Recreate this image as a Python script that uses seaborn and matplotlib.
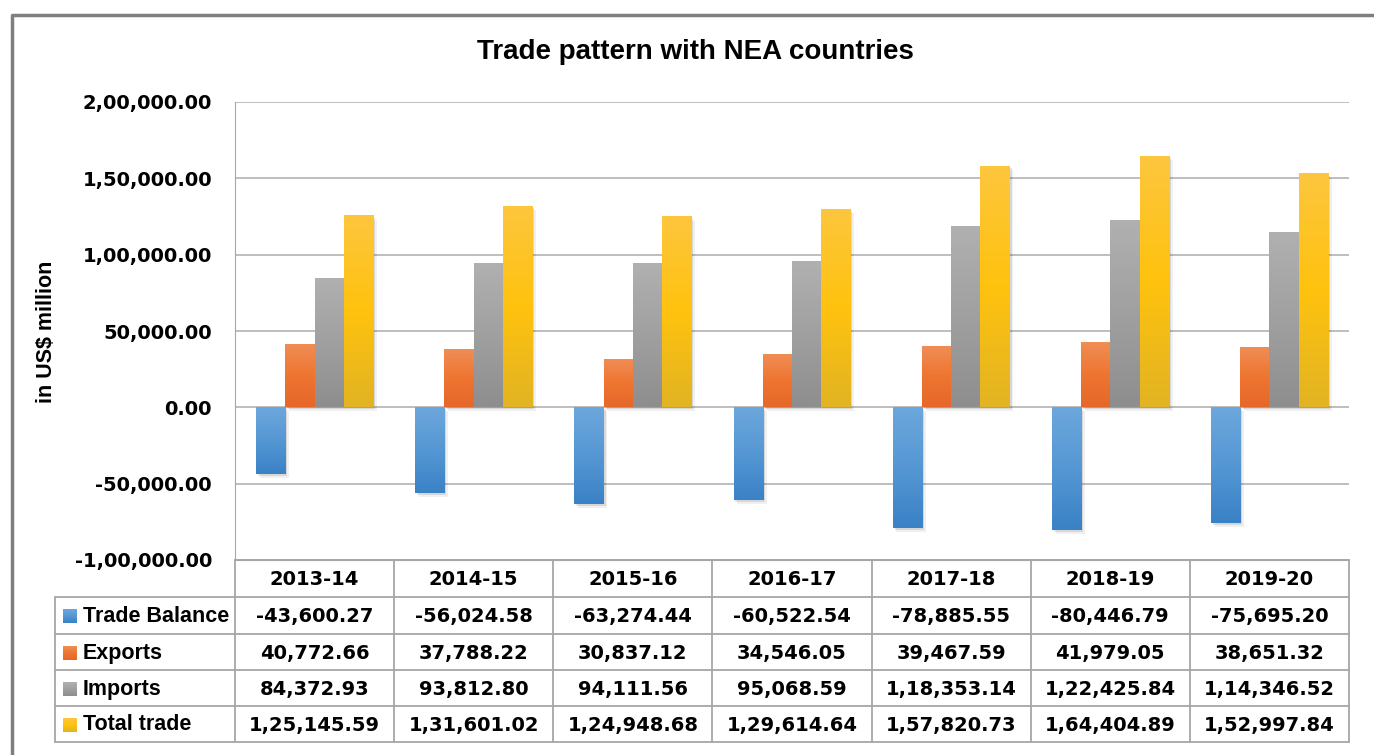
import matplotlib
matplotlib.use("Agg")
import matplotlib.pyplot as plt
import matplotlib.patches as mpatches
import numpy as np
import pandas as pd
import seaborn as sns

years = ["2013-14", "2014-15", "2015-16", "2016-17", "2017-18", "2018-19", "2019-20"]
series = ["Trade Balance", "Exports", "Imports", "Total trade"]
trade_balance = [-43600.27, -56024.58, -63274.44, -60522.54, -78885.55, -80446.79, -75695.20]
exports = [40772.66, 37788.22, 30837.12, 34546.05, 39467.59, 41979.05, 38651.32]
imports = [84372.93, 93812.80, 94111.56, 95068.59, 118353.14, 122425.84, 114346.52]
total_trade = [125145.59, 131601.02, 124948.68, 129614.64, 157820.73, 164404.89, 152997.84]
y_ticks = [-100000, -50000, 0, 50000, 100000, 150000, 200000]

values = [trade_balance, exports, imports, total_trade]
colors = ["#5b9bd5", "#ed7d31", "#a5a5a5", "#ffc000"]
# top / middle / bottom gradient stops per series
grads = [
    ["#6ca7dc", "#5597d4", "#3a82c6"],
    ["#f08d55", "#ee7530", "#e6672a"],
    ["#b0b0b0", "#a0a0a0", "#8e8e8e"],
    ["#fdc63d", "#ffc20e", "#e2b423"],
]


def indian(v):
    # Indian digit grouping: 1,25,145.59
    s = f"{abs(v):.2f}"
    ip, dp = s.split(".")
    if len(ip) > 3:
        head, tail = ip[:-3], ip[-3:]
        parts = []
        while len(head) > 2:
            parts.insert(0, head[-2:])
            head = head[:-2]
        if head:
            parts.insert(0, head)
        ip = ",".join(parts + [tail])
    return ("-" if v < 0 else "") + ip + "." + dp


rows = []
for name, vals in zip(series, values):
    for yr, v in zip(years, vals):
        rows.append({"Year": yr, "Series": name, "Value": v})
df = pd.DataFrame(rows)

sns.set_style("white")
plt.rcParams["font.family"] = ["Liberation Sans", "DejaVu Sans"]
plt.rcParams["font.weight"] = "bold"
plt.rcParams["text.color"] = "black"
plt.rcParams["ytick.color"] = "black"
num_font = dict(family="DejaVu Sans", fontweight="bold", fontsize=14, color="black")

W, H = 1374, 755
fig = plt.figure(figsize=(W / 100, H / 100), dpi=100)


def fx(px):
    return px / W


def fy(py):
    return 1 - py / H


left, right, top, bottom = 235, 1349, 102, 560
ax = fig.add_axes([fx(left), fy(bottom), fx(right - left), fy(top) - fy(bottom)])

sns.barplot(data=df, x="Year", y="Value", hue="Series", hue_order=series,
            palette=colors, width=0.735, legend=False, ax=ax, zorder=3,
            saturation=1)

ax.set_ylim(-100000, 200000)
ax.set_xlim(-0.5, len(years) - 0.5)

# gradient fill and soft shadow on each bar
for cont, g in zip(ax.containers, grads):
    cmap = matplotlib.colors.LinearSegmentedColormap.from_list("g", g)
    grad = cmap(np.linspace(0, 1, 64))[:, None, :3]
    for bar in cont:
        x0, w = bar.get_x(), bar.get_width()
        y0, h = bar.get_y(), bar.get_height()
        ymin, ymax = min(y0, y0 + h), max(y0, y0 + h)
        for k, a in [(1, 0.10), (2, 0.06)]:
            ax.add_patch(mpatches.Rectangle((x0 + 0.012 * k, ymin - 1300 * k), w, ymax - ymin,
                                            facecolor="black", alpha=a, lw=0, zorder=2))
        ax.imshow(grad, extent=[x0, x0 + w, ymin, ymax], aspect="auto",
                  origin="upper", zorder=3, interpolation="bilinear")
        bar.set_visible(False)

ax.set_ylim(-100000, 200000)
ax.set_xlim(-0.5, len(years) - 0.5)
ax.set_aspect("auto")

ax.set_yticks(y_ticks)
ax.set_yticklabels([indian(t) for t in y_ticks], **num_font)
ax.tick_params(axis="y", length=0, pad=16.5)
ax.set_xticks([])
ax.set_xlabel("")
ax.set_ylabel("")
ax.yaxis.grid(True, color="#b3b3b3", lw=1.2)
ax.set_axisbelow(True)
for s in ["top", "right"]:
    ax.spines[s].set_visible(False)
ax.spines["left"].set_color("#a6a6a6")
ax.spines["bottom"].set_color("#a6a6a6")

fig.text(fx(46), fy(332), "in US$ million", rotation=90, ha="center", va="center",
         fontsize=15.5, fontweight="bold")
fig.text(fx(695), fy(52), "Trade pattern with NEA countries", ha="center", va="center",
         fontsize=20, fontweight="bold")

# data table below the plot
tax = fig.add_axes([0, 0, 1, 1], zorder=5)
tax.set_xlim(0, W)
tax.set_ylim(H, 0)
tax.axis("off")
lc = "#a6a6a6"
col_w = (right - left) / len(years)
row_y = [560, 597, 634, 670, 706, 742]
lab_x = 55
for i in range(len(years) + 1):
    xx = left + i * col_w
    tax.plot([xx, xx], [row_y[0], row_y[-1]], color=lc, lw=1.3)
tax.plot([lab_x, lab_x], [row_y[1], row_y[-1]], color=lc, lw=1.3)
tax.plot([left, right], [row_y[0], row_y[0]], color=lc, lw=1.3)
for yy in row_y[1:]:
    tax.plot([lab_x, right], [yy, yy], color=lc, lw=1.3)

for i, yr in enumerate(years):
    tax.text(left + (i + 0.5) * col_w, (row_y[0] + row_y[1]) / 2 + 1, yr,
             ha="center", va="center", **num_font)

for r, (name, vals, g) in enumerate(zip(series, values, grads)):
    yc = (row_y[r + 1] + row_y[r + 2]) / 2 + 1
    cmap = matplotlib.colors.LinearSegmentedColormap.from_list("g", g)
    tax.imshow(cmap(np.linspace(0, 1, 16))[:, None, :3], extent=[63, 77, yc + 7, yc - 7],
               aspect="auto", zorder=6)
    tax.text(83, yc, name, ha="left", va="center", fontsize=15.5, fontweight="bold")
    for i, v in enumerate(vals):
        tax.text(left + (i + 0.5) * col_w, yc, indian(v), ha="center", va="center",
                 **num_font)
tax.set_xlim(0, W)
tax.set_ylim(H, 0)

# outer chart frame
tax.plot([12, 12, W + 5], [H + 5, 15, 15], color="#7f7f7f", lw=2.5)

fig.savefig("out.png", dpi=100)
